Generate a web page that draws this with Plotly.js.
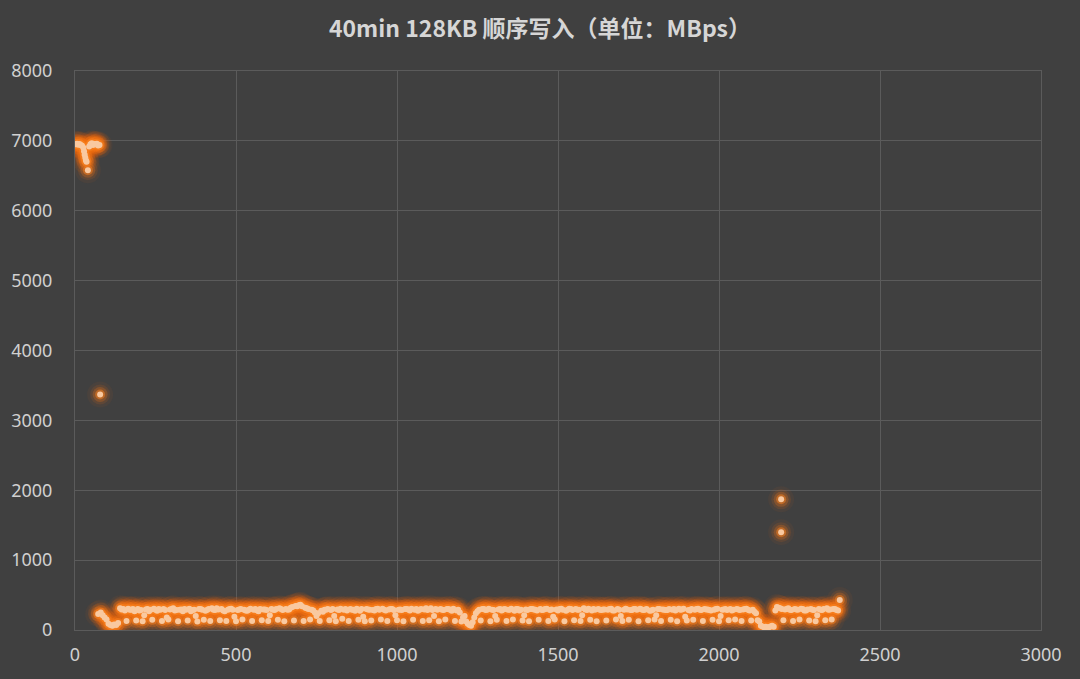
<!DOCTYPE html>
<html>
<head>
<meta charset="utf-8">
<script src="https://cdn.plot.ly/plotly-3.0.1.min.js"></script>
<style>html,body{margin:0;padding:0;background:#404040;}#chart{width:1080px;height:679px;}</style>
</head>
<body>
<div id="chart"></div>
<script>
// ---- data (seconds, MBps) ----
var titleText = '40min 128KB 顺序写入（单位：MBps）';

// initial SLC-cache plateau
var topX = [2, 6, 10, 14, 18, 22, 26, 28, 30, 32, 34, 36, 40, 44, 48, 52, 56, 60, 64, 68, 72, 76];
var topY = [6950, 6960, 6945, 6955, 6940, 6930, 6900, 6850, 6800, 6760, 6720, 6700, 6580, 6920, 6950, 6965, 6940, 6955, 6950, 6960, 6935, 6940];

// transition after cache exhaustion
var dropX = [72, 80, 86, 92, 98, 104, 110, 116, 122, 128, 134];
var dropY = [230, 250, 210, 180, 150, 90, 70, 60, 80, 70, 100];

// isolated points
var outlierX = [78, 2193, 2193, 2375];
var outlierY = [3370, 1870, 1400, 430];

// steady-state band, sampled every bandStep seconds (two interleaved sample sets)
var bandStart = 140;
var bandStep = 10;
var bandY = [
  310, 300, 130, 290, 300, 135, 280, 125, 295, 270,
  145, 290, 300, 130, 285, 150, 300, 280, 125, 295,
  300, 135, 270, 290, 120, 300, 145, 285, 130, 290,
  310, 140, 280, 130, 300, 290, 125, 295, 150, 280,
  290, 130, 300, 270, 140, 295, 130, 300, 285, 145,
  300, 125, 290, 320, 135, 340, 360, 130, 310, 150,
  280, 200, 130, 260, 290, 140, 300, 125, 285, 160,
  300, 130, 290, 275, 145, 300, 125, 295, 135, 280,
  305, 150, 290, 130, 300, 285, 140, 295, 125, 300,
  280, 145, 300, 290, 130, 310, 140, 285, 300, 125,
  290, 150, 300, 275, 130, 290, 120, 200, 90, 60,
  180, 270, 135, 300, 290, 125, 285, 145, 300, 295,
  130, 290, 150, 300, 280, 135, 295, 125, 300, 290,
  145, 285, 300, 130, 295, 150, 280, 305, 125, 290,
  300, 140, 290, 130, 310, 285, 145, 300, 125, 290,
  295, 135, 300, 280, 150, 290, 130, 305, 145, 285,
  300, 125, 295, 290, 140, 280, 150, 300, 130, 290,
  285, 145, 300, 125, 290, 305, 135, 280, 145, 300,
  290, 130, 295, 285, 145, 300, 125, 290, 300, 140,
  280, 150, 295, 130, 300, 290, 135, 260, 140, 60,
  40, 35, 50, 45, 330, 310, 140, 300, 290, 130,
  295, 150, 300, 280, 135, 290, 125, 300, 285, 140,
  290, 150, 300, 280
];
var band2Start = 145;
var bandY2 = [
  295, 280, 305, 290, 270, 300, 285, 210, 300, 290,
  305, 275, 290, 300, 180, 295, 310, 285, 290, 270,
  290, 305, 285, 200, 300, 290, 275, 300, 310, 285,
  295, 300, 270, 290, 305, 190, 285, 300, 290, 275,
  305, 290, 280, 300, 295, 285, 210, 290, 300, 310,
  285, 300, 295, 330, 345, 355, 340, 320, 300, 290,
  250, 240, 275, 290, 300, 285, 200, 295, 305, 290,
  280, 300, 290, 305, 275, 190, 300, 290, 285, 300,
  290, 305, 280, 295, 300, 210, 290, 285, 300, 295,
  305, 290, 275, 300, 295, 285, 310, 200, 290, 300,
  285, 300, 290, 305, 280, 250, 180, 120, 70, 110,
  240, 290, 300, 285, 305, 290, 200, 295, 280, 300,
  290, 305, 275, 300, 290, 210, 285, 300, 295, 280,
  300, 290, 305, 285, 190, 295, 300, 290, 275, 305,
  285, 300, 290, 210, 295, 305, 280, 290, 300, 285,
  295, 290, 305, 280, 300, 200, 290, 295, 285, 300,
  290, 305, 285, 300, 275, 290, 210, 300, 295, 285,
  300, 290, 280, 305, 295, 190, 285, 300, 290, 305,
  285, 300, 295, 280, 290, 305, 200, 295, 285, 300,
  290, 300, 285, 295, 305, 280, 290, 240, 120, 50,
  45, 40, 60, 280, 320, 300, 295, 310, 285, 300,
  290, 305, 280, 295, 300, 285, 210, 290, 300, 310,
  295, 300, 285
];

var xTickVals = [0, 500, 1000, 1500, 2000, 2500, 3000];
var yTickVals = [0, 1000, 2000, 3000, 4000, 5000, 6000, 7000, 8000];

// ---- assemble ----
var bandX = bandY.map(function (v, i) { return bandStart + i * bandStep; });
var bandX2 = bandY2.map(function (v, i) { return band2Start + i * bandStep; });
var allX = topX.concat(dropX, bandX, bandX2, outlierX);
var allY = topY.concat(dropY, bandY, bandY2, outlierY);

// soft glow: stacked translucent layers, then a light core
var glowLayers = [
  {size: 26, color: 'rgba(230,100,10,0.06)'},
  {size: 20, color: 'rgba(238,108,15,0.12)'},
  {size: 15, color: 'rgba(245,115,20,0.25)'},
  {size: 10, color: 'rgba(250,128,30,0.50)'}
];
var traces = glowLayers.map(function (g) {
  return {
    type: 'scatter', mode: 'markers', x: allX, y: allY, hoverinfo: 'skip',
    marker: {size: g.size, color: g.color, line: {width: 0}}
  };
});
traces.push({
  type: 'scatter', mode: 'markers', x: allX, y: allY, hoverinfo: 'skip',
  marker: {size: 6, color: '#f9c9a0', line: {width: 0}}
});

var gridC = '#5b5b5b';
var tickFont = {family: 'Noto Sans, DejaVu Sans, sans-serif', size: 18, color: '#d0d0d0'};

var layout = {
  width: 1080, height: 679,
  paper_bgcolor: '#404040', plot_bgcolor: '#404040',
  showlegend: false, hovermode: false,
  margin: {l: 75, r: 39, t: 71, b: 49, pad: 0},
  title: {
    text: '<b>' + titleText + '</b>',
    font: {family: 'Noto Sans CJK SC, sans-serif', size: 23, color: '#d6d6d6'},
    x: 0.5, xanchor: 'center', y: 0.957, yanchor: 'middle', yref: 'container'
  },
  xaxis: {
    range: [0, 3000], tickvals: xTickVals, ticktext: xTickVals.map(String),
    showgrid: true, gridcolor: gridC, gridwidth: 1,
    zeroline: false, showline: true, linecolor: gridC, mirror: true,
    ticks: '', tickfont: tickFont, ticklabelstandoff: 8, fixedrange: true
  },
  yaxis: {
    range: [0, 8000], tickvals: yTickVals, ticktext: yTickVals.map(String),
    showgrid: true, gridcolor: gridC, gridwidth: 1,
    zeroline: false, showline: true, linecolor: gridC, mirror: true,
    ticks: '', tickfont: tickFont, ticklabelstandoff: 18, fixedrange: true
  }
};

Plotly.newPlot('chart', traces, layout, {staticPlot: true, displayModeBar: false});
</script>
</body>
</html>
